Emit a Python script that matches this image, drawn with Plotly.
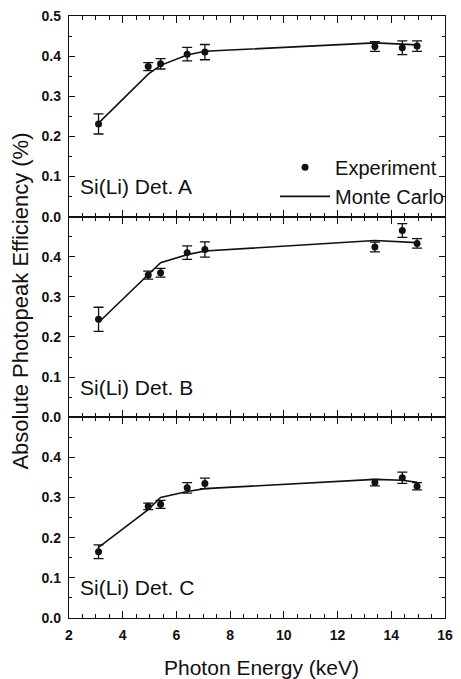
import plotly.graph_objects as go
from plotly.subplots import make_subplots

# Photon energies of the calibration lines (keV)
energy = [3.10, 4.95, 5.41, 6.40, 7.06, 13.39, 14.41, 14.96]

# Detector A
exp_a = [0.231, 0.374, 0.381, 0.405, 0.410, 0.424, 0.421, 0.425]
err_a = [0.025, 0.010, 0.013, 0.017, 0.019, 0.012, 0.017, 0.013]
mc_a = [0.233, 0.355, 0.377, 0.403, 0.412, 0.433, 0.430, 0.428]

# Detector B
exp_b = [0.244, 0.354, 0.360, 0.410, 0.418, 0.424, 0.465, 0.433]
err_b = [0.030, 0.010, 0.011, 0.017, 0.019, 0.012, 0.017, 0.012]
mc_b = [0.236, 0.357, 0.385, 0.405, 0.414, 0.440, 0.437, 0.435]

# Detector C
exp_c = [0.165, 0.278, 0.283, 0.324, 0.335, 0.337, 0.349, 0.328]
err_c = [0.017, 0.008, 0.010, 0.013, 0.013, 0.008, 0.014, 0.009]
mc_c = [0.176, 0.270, 0.300, 0.315, 0.322, 0.345, 0.343, 0.338]

panel_labels = ["Si(Li) Det. A", "Si(Li) Det. B", "Si(Li) Det. C"]

FONT = "Liberation Sans, Arial, sans-serif"
INK = "#111111"

fig = make_subplots(rows=3, cols=1, shared_xaxes=False, vertical_spacing=0)

panels = [(exp_a, err_a, mc_a), (exp_b, err_b, mc_b), (exp_c, err_c, mc_c)]
for i, (ey, ee, mc) in enumerate(panels, start=1):
    fig.add_trace(go.Scatter(
        x=energy, y=mc, mode="lines", name="Monte Carlo",
        line=dict(color=INK, width=1.6), showlegend=(i == 1), legendrank=2,
    ), row=i, col=1)
    fig.add_trace(go.Scatter(
        x=energy, y=ey, mode="markers", name="Experiment",
        marker=dict(color=INK, size=7),
        error_y=dict(type="data", array=ee, color=INK, thickness=1.3, width=5),
        showlegend=(i == 1), legendrank=1,
    ), row=i, col=1)

for i in range(1, 4):
    fig.update_xaxes(
        range=[2, 16], showline=True, linecolor=INK, linewidth=1.3,
        mirror="allticks", ticks="inside", ticklen=7, tickwidth=1.2, tickcolor=INK,
        tick0=0, dtick=2, showgrid=False, zeroline=False,
        minor=dict(dtick=0.5, ticks="inside", ticklen=4, tickwidth=1,
                   tickcolor=INK, showgrid=False),
        showticklabels=(i == 3), ticklabelstandoff=4,
        tickfont=dict(family=FONT, size=14, color=INK, weight="bold"),
        row=i, col=1,
    )
    # lower panels stop just short of 0.5 so their top label does not
    # collide with the 0.0 label of the panel above
    fig.update_yaxes(
        range=[0, 0.5 if i == 1 else 0.4995], showline=True, linecolor=INK,
        linewidth=1.3, mirror="allticks", ticks="inside", ticklen=6,
        tickwidth=1.2, tickcolor=INK, tick0=0, dtick=0.1, tickformat=".1f",
        showgrid=False, zeroline=(i < 3), zerolinecolor="#b8b8b8", zerolinewidth=3,
        minor=dict(dtick=0.05, ticks="inside", ticklen=3, tickwidth=1,
                   tickcolor=INK, showgrid=False),
        ticklabelstandoff=4,
        tickfont=dict(family=FONT, size=14, color=INK, weight="bold"),
        row=i, col=1,
    )
    fig.add_annotation(
        x=2.33, y=0.075, xref=f"x{'' if i == 1 else i}", yref=f"y{'' if i == 1 else i}",
        text=panel_labels[i - 1], showarrow=False, xanchor="left", yanchor="middle",
        font=dict(family=FONT, size=21, color=INK),
    )

fig.add_annotation(
    x=-0.128, y=0.527, xref="paper", yref="paper", textangle=-90,
    text="Absolute Photopeak Efficiency (%)", showarrow=False,
    xanchor="center", yanchor="middle",
    font=dict(family=FONT, size=22, color=INK),
)
fig.add_annotation(
    x=0.512, y=-0.083, xref="paper", yref="paper",
    text="Photon Energy (keV)", showarrow=False,
    xanchor="center", yanchor="middle",
    font=dict(family=FONT, size=21, color=INK),
)

fig.update_layout(
    width=461, height=679,
    margin=dict(l=69, r=8, t=16, b=61),
    paper_bgcolor="white", plot_bgcolor="white",
    showlegend=True,
    legend=dict(
        x=0.548, y=0.781, xanchor="left", yanchor="top",
        bgcolor="rgba(0,0,0,0)", borderwidth=0,
        font=dict(family=FONT, size=20, color=INK),
        itemwidth=50, tracegroupgap=0,
    ),
)

fig.write_html("out.html")
